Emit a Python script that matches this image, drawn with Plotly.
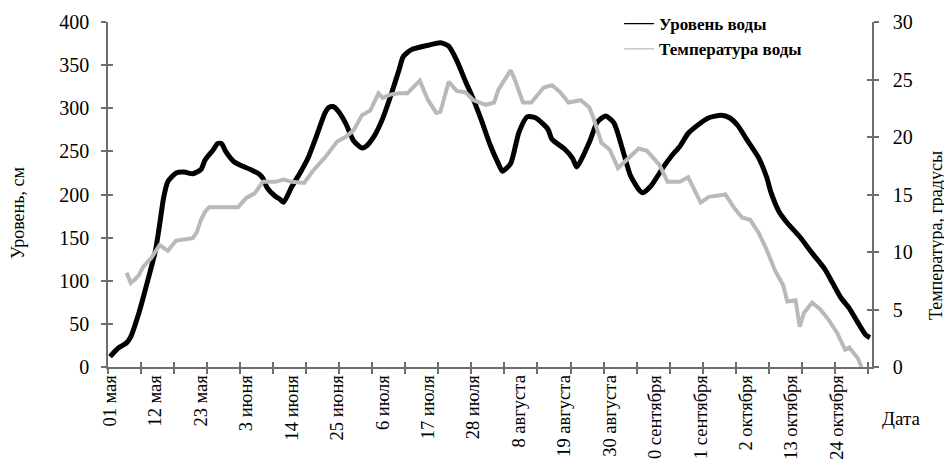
import plotly.graph_objects as go

# ---- data ----
# day index: 0 = 01 May
level_days = [0, 2, 4, 5, 7, 8, 10, 11, 12, 13, 14, 16, 18, 20, 22, 23, 25, 26, 27, 28,
              30, 32, 34, 36, 37, 38, 40, 41, 42, 44, 46, 48, 50, 52, 53, 54, 55, 57, 59, 61,
              62, 64, 66, 68, 70, 71, 73, 77, 80, 82, 84, 86, 88, 90, 92, 94, 95, 97, 99, 101,
              103, 106, 107, 110, 112, 113, 116, 118, 120, 122, 124, 126, 128, 129, 131, 134, 136, 138, 140, 143,
              145, 148, 150, 152, 154, 157, 159, 160, 162, 164, 167, 170, 173, 175, 177, 179, 181, 183, 184]
level_cm = [12, 22, 28, 35, 63, 80, 116, 135, 165, 197, 215, 225, 226, 224, 229, 240, 252, 259, 259, 250,
            238, 233, 229, 224, 219, 208, 198, 195, 191, 209, 225, 243, 268, 294, 301, 302, 298, 283, 262, 254,
            256, 268, 288, 315, 345, 360, 368, 373, 376, 372, 355, 332, 310, 285, 258, 236, 227, 236, 272, 290,
            289, 276, 264, 253, 242, 232, 260, 284, 291, 283, 254, 222, 206, 202, 210, 232, 245, 256, 271, 283,
            289, 292, 289, 280, 265, 243, 220, 203, 180, 167, 151, 132, 114, 97, 80, 68, 52, 37, 34]

temp_days = [4, 5, 6, 7, 8, 10, 12, 13, 14, 16, 19, 20, 21, 22, 23, 24, 31, 33, 35, 37,
             40, 42, 44, 47, 49, 52, 55, 57, 59, 61, 63, 65, 66, 68, 70, 72, 75, 77, 79, 80,
             82, 84, 86, 88, 91, 93, 94, 97, 98, 100, 102, 105, 107, 109, 111, 114, 116, 117, 119, 121,
             123, 125, 128, 130, 133, 135, 138, 140, 141, 143, 145, 149, 151, 153, 155, 157, 159, 161, 163, 164,
             166, 167, 168, 170, 172, 174, 176, 178, 179, 181, 182]
temp_c = [8.2, 7.3, 7.6, 8.0, 8.7, 9.5, 10.6, 10.3, 10.1, 11.0, 11.1, 11.2, 11.7, 12.8, 13.5, 13.9, 13.9, 14.7, 15.1, 16.1,
          16.1, 16.3, 16.1, 16.0, 17.0, 18.2, 19.6, 20.0, 20.6, 21.9, 22.3, 23.8, 23.4, 23.7, 23.8, 23.8, 24.9, 23.2, 22.1, 22.2,
          24.8, 24.0, 23.9, 23.2, 22.8, 23.0, 24.1, 25.8, 25.0, 23.0, 23.0, 24.3, 24.5, 23.9, 23.0, 23.2, 22.6, 21.7, 19.5, 18.9,
          17.3, 18.0, 19.0, 18.8, 17.6, 16.1, 16.1, 16.5, 15.7, 14.3, 14.8, 15.0, 13.9, 13.0, 12.8, 11.7, 10.2, 8.4, 7.1, 5.7,
          5.8, 3.5, 4.7, 5.6, 5.0, 4.1, 3.0, 1.5, 1.7, 0.8, 0.0]

label_days = [0, 11, 22, 33, 44, 55, 66, 77, 88, 99, 110, 121, 132, 143, 154, 165, 176]
label_text = ["01 мая", "12 мая", "23 мая", "3 июня", "14 июня", "25 июня", "6 июля", "17 июля",
              "28 июля", "8 августа", "19 августа", "30 августа", "10 сентября", "21 сентября",
              "2 октября", "13 октября", "24 октября"]

series_names = ["Уровень воды", "Температура воды"]
level_range = [0, 400]
temp_range = [0, 30]
x_range = [-0.5, 184.5]
tick_step = 8

FONT = "Liberation Serif"
AX = "#6e6e6e"
GRAY = "#b9b9b9"

fig = go.Figure()
fig.add_trace(go.Scatter(x=level_days, y=level_cm, mode="lines", line=dict(color="black", width=5, shape="spline", smoothing=0.6),
                         showlegend=False, hoverinfo="skip", xaxis="x", yaxis="y"))
fig.add_trace(go.Scatter(x=temp_days, y=temp_c, mode="lines", line=dict(color=GRAY, width=4),
                         showlegend=False, hoverinfo="skip", xaxis="x", yaxis="y2"))
# legend entries (thin sample lines)
fig.add_trace(go.Scatter(x=[None], y=[None], mode="lines", line=dict(color="black", width=1.2), name=series_names[0]))
fig.add_trace(go.Scatter(x=[None], y=[None], mode="lines", line=dict(color=GRAY, width=1.2), name=series_names[1]))
# helpers for the inner half of the crossing tick marks
fig.add_trace(go.Scatter(x=[None], y=[None], xaxis="x2", yaxis="y3", showlegend=False, hoverinfo="skip"))
fig.add_trace(go.Scatter(x=[None], y=[None], xaxis="x", yaxis="y4", showlegend=False, hoverinfo="skip"))

num_font = dict(family=FONT, size=20, color="black")
cat_font = dict(family=FONT, size=18.5, color="black")
title_font = dict(family=FONT, size=18, color="black")

fig.update_layout(
    width=952, height=459,
    margin=dict(l=100, r=88, t=14, b=100, autoexpand=False),
    paper_bgcolor="white", plot_bgcolor="white",
    showlegend=True,
    legend=dict(x=0.669, y=1.046, xanchor="left", yanchor="top", bgcolor="rgba(0,0,0,0)",
                font=dict(family=FONT, size=17, color="black", weight="bold"),
                itemwidth=30, tracegroupgap=0),
    xaxis=dict(range=x_range, tickmode="array", tickvals=label_days, ticktext=label_text,
               tickangle=-90, ticks="", showline=True, linecolor=AX, linewidth=1.5,
               showgrid=False, zeroline=False, tickfont=cat_font, anchor="y", ticklabelstandoff=-1,
               minor=dict(tickmode="linear", tick0=x_range[0], dtick=tick_step, ticks="outside",
                          ticklen=5, tickwidth=1.5, tickcolor=AX, showgrid=False)),
    xaxis2=dict(range=x_range, overlaying="x", anchor="y", side="bottom", tickmode="linear",
                tick0=x_range[0], dtick=tick_step, ticks="inside", ticklen=5, tickwidth=1.5,
                tickcolor=AX, showticklabels=False, showline=False, showgrid=False, zeroline=False),
    yaxis=dict(range=level_range, dtick=50, ticks="outside", ticklen=5, tickwidth=1.5, tickcolor=AX,
               showline=True, linecolor=AX, linewidth=1.5, showgrid=False, zeroline=False,
               tickfont=num_font, ticklabelstandoff=8, anchor="x"),
    yaxis3=dict(range=level_range, dtick=50, overlaying="y", side="left", anchor="x2", ticks="inside",
                ticklen=5, tickwidth=1.5, tickcolor=AX, showticklabels=False, showline=False,
                showgrid=False, zeroline=False),
    yaxis2=dict(range=temp_range, dtick=5, overlaying="y", side="right", anchor="x", ticks="outside",
                ticklen=5, tickwidth=1.5, tickcolor=AX, showline=True, linecolor=AX, linewidth=1.5,
                showgrid=False, zeroline=False, tickfont=num_font, ticklabelstandoff=10),
    yaxis4=dict(range=temp_range, dtick=5, overlaying="y", side="right", anchor="x", ticks="inside",
                ticklen=5, tickwidth=1.5, tickcolor=AX, showticklabels=False, showline=False,
                showgrid=False, zeroline=False),
    annotations=[
        dict(text="Уровень, см", x=-0.118, y=0.446, xref="paper", yref="paper", textangle=-90,
             showarrow=False, xanchor="center", yanchor="middle", font=title_font),
        dict(text="Температура, градусы", x=1.084, y=0.38, xref="paper", yref="paper", textangle=-90,
             showarrow=False, xanchor="center", yanchor="middle", font=title_font),
        dict(text="Дата", x=1.038, y=-0.148, xref="paper", yref="paper",
             showarrow=False, xanchor="center", yanchor="middle", font=dict(family=FONT, size=19, color="black")),
    ],
)

fig.write_html("out.html")
